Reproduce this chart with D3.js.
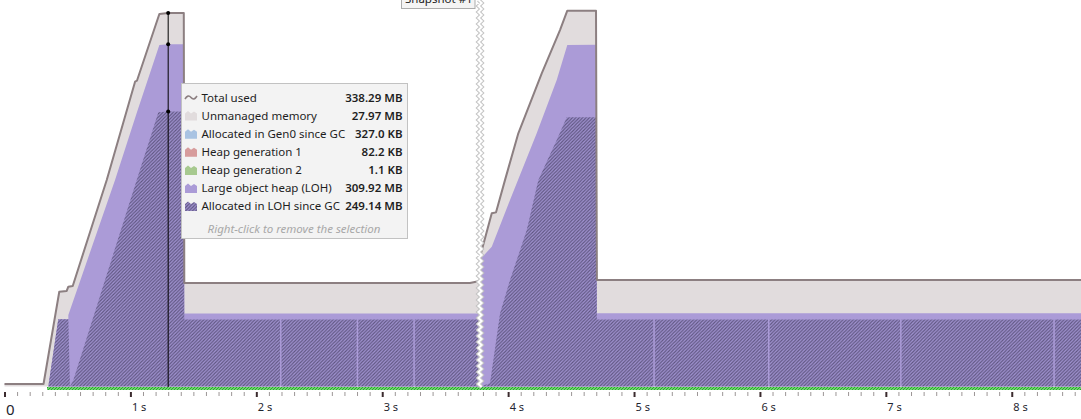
<!DOCTYPE html>
<html>
<head>
<meta charset="utf-8">
<script src="https://cdn.jsdelivr.net/npm/d3@7"></script>
<style>
  body { margin: 0; background: #fff; overflow: hidden; }
  svg { display: block; font-family: "Noto Sans", "Open Sans", sans-serif; }
</style>
</head>
<body>
<svg id="chart" width="1081" height="419"></svg>
<script>
// memory timeline, [time in s, MB]
var totalUsed = [[0, 2.3], [0.31, 2.3], [0.435, 85.8], [0.494, 86.5], [0.507, 90.4], [0.542, 91.0],
  [0.812, 187.0], [1.037, 276.0], [1.052, 276.9], [1.23, 337.3], [1.30, 338.29], [1.424, 338.3],
  [1.428, 93.7], [3.697, 93.7], [3.745, 94.9], [3.777, 95.5], [3.785, 121.0], [3.870, 156.8],
  [3.904, 157.7], [3.975, 186.9], [4.081, 229.3], [4.267, 283.6], [4.412, 322.8], [4.47, 340.3],
  [4.698, 340.3], [4.705, 96.4], [8.55, 96.4]];

var lohSize = [[0, 0], [0.348, 0], [0.427, 60.9], [0.507, 60.9], [0.507, 64.7], [0.878, 187.0],
  [1.05, 247.7], [1.23, 309.2], [1.30, 309.92], [1.424, 309.92], [1.428, 66.1], [3.777, 66.1],
  [3.785, 116.0], [3.870, 126.6], [4.015, 168.9], [4.227, 229.3], [4.386, 277.5], [4.47, 309.2],
  [4.698, 309.5], [4.705, 66.3], [8.55, 66.3]];

var lohAllocated = [[0, 0], [0.348, 0], [0.427, 60.9], [0.507, 60.9], [0.52, 0], [0.547, 5.9],
  [1.05, 187.0], [1.222, 248.3], [1.30, 249.14], [1.424, 249.14], [1.428, 60.7],
  [2.188, 60.7], [2.188, 0], [2.200, 0], [2.200, 60.7],
  [2.797, 60.7], [2.797, 0], [2.809, 0], [2.809, 60.7],
  [3.247, 60.7], [3.247, 0], [3.259, 0], [3.259, 60.7],
  [3.777, 60.7], [3.777, 0], [3.856, 2.9], [3.936, 66.3], [4.015, 96.4], [4.148, 141.7],
  [4.24, 187.0], [4.386, 223.2], [4.465, 243.8], [4.698, 243.8], [4.705, 60.7],
  [5.153, 60.7], [5.153, 0], [5.165, 0], [5.165, 60.7],
  [6.064, 60.7], [6.064, 0], [6.076, 0], [6.076, 60.7],
  [7.113, 60.7], [7.113, 0], [7.125, 0], [7.125, 60.7],
  [8.33, 60.7], [8.33, 0], [8.342, 0], [8.342, 60.7], [8.55, 60.7]];

var tickValues = [0, 1, 2, 3, 4, 5, 6, 7, 8];
var tickLabels = ["0", "1 s", "2 s", "3 s", "4 s", "5 s", "6 s", "7 s", "8 s"];

var snapshotTime = 3.777;
var snapshotLabel = "Snapshot #1";
var cursorTime = 1.30;

var legendNames = ["Total used", "Unmanaged memory", "Allocated in Gen0 since GC", "Heap generation 1",
  "Heap generation 2", "Large object heap (LOH)", "Allocated in LOH since GC"];
var legendValues = ["338.29 MB", "27.97 MB", "327.0 KB", "82.2 KB", "1.1 KB", "309.92 MB", "249.14 MB"];
var legendColors = [null, "#e1dcdd", "#a9c3e2", "#d79c9c", "#a7c98f", "#ab9bd7", "url(#hatch)"];
var cursorValues = [338.29, 309.92, 249.14];

var svg = d3.select("#chart");
var x = d3.scaleLinear().domain([0, 8.55]).range([4.5, 1081]);
var y = d3.scaleLinear().domain([0, 350]).range([386.5, 0]);

var defs = svg.append("defs");
var hatch = defs.append("pattern").attr("id", "hatch")
  .attr("patternUnits", "userSpaceOnUse").attr("width", 3.4).attr("height", 3.4);
hatch.append("rect").attr("width", 3.4).attr("height", 3.4).attr("fill", "#a294d2");
hatch.append("path").attr("d", "M-0.85,0.85 l1.7,-1.7 M0,3.4 l3.4,-3.4 M2.55,4.25 l1.7,-1.7")
  .attr("stroke", "#5e5580").attr("stroke-width", 1.1);

var green = defs.append("pattern").attr("id", "green")
  .attr("patternUnits", "userSpaceOnUse").attr("width", 3).attr("height", 3);
green.append("rect").attr("width", 3).attr("height", 3).attr("fill", "#b4ecb4");
green.append("path").attr("d", "M0,3 l3,-3 M-1,1 l2,-2 M2,4 l2,-2")
  .attr("stroke", "#22b022").attr("stroke-width", 1.3);

function area(data) {
  return d3.area().x(function (d) { return x(d[0]); }).y0(y(0)).y1(function (d) { return y(d[1]); })(data);
}

// stacked fills: unmanaged (under total), LOH, allocated in LOH
svg.append("path").attr("d", area(totalUsed)).attr("fill", "#e1dcdd");
svg.append("path").attr("d", area(lohSize)).attr("fill", "#ab9bd7");
svg.append("path").attr("d", area(lohAllocated)).attr("fill", "url(#hatch)");

svg.append("path")
  .attr("d", d3.line().x(function (d) { return x(d[0]); }).y(function (d) { return y(d[1]); })(totalUsed))
  .attr("fill", "none").attr("stroke", "#8c7f81").attr("stroke-width", 2).attr("stroke-linejoin", "round");

// green GC strip along the bottom
svg.append("rect").attr("x", 47).attr("y", 387).attr("width", 1081 - 47).attr("height", 3)
  .attr("fill", "url(#green)");

// axes
var minor = d3.range(1, 86).filter(function (i) { return i % 10 !== 0; }).map(function (i) { return i / 10; });
var minorAxis = svg.append("g").attr("transform", "translate(0,392)")
  .call(d3.axisBottom(x).tickValues(minor).tickSize(4).tickFormat(""));
minorAxis.select(".domain").remove();
minorAxis.selectAll("line").attr("stroke", "#9c9696");

var majorAxis = svg.append("g").attr("transform", "translate(0,392)")
  .call(d3.axisBottom(x).tickValues(tickValues).tickSize(5)
    .tickFormat(function (d, i) { return tickLabels[i]; }));
majorAxis.select(".domain").remove();
majorAxis.selectAll("line").attr("stroke", "#3b2b2e").attr("stroke-width", 2);
majorAxis.selectAll("text")
  .attr("text-anchor", "start").attr("x", 1).attr("y", 19).attr("dy", null)
  .attr("fill", "#1f2630").style("font-family", "'Noto Sans', sans-serif")
  .style("font-size", function (d) { return d === 0 ? "15px" : "11px"; })
  .attr("y", function (d) { return d === 0 ? 23 : 19; });

// snapshot separator
var sx = x(snapshotTime);
var zig = d3.range(0, 130).map(function (i) { return [sx + (i % 2 ? 1.6 : -1.6), i * 3]; });
svg.append("path").attr("d", d3.line()(zig)).attr("fill", "none").attr("stroke", "#c3c3c3").attr("stroke-width", 4);
svg.append("path").attr("d", d3.line()(zig)).attr("fill", "none").attr("stroke", "#fff").attr("stroke-width", 2);

var snap = svg.append("g");
snap.append("rect").attr("x", 401.5).attr("y", -14).attr("width", 73.5).attr("height", 22.5)
  .attr("fill", "#f4f4f4").attr("stroke", "#acacac");
snap.append("text").attr("x", 405).attr("y", 2.5).attr("font-size", 11.5).attr("fill", "#222")
  .text(snapshotLabel);

// cursor
var cx = x(cursorTime);
svg.append("line").attr("x1", cx).attr("x2", cx).attr("y1", y(338.29) - 1).attr("y2", 387)
  .attr("stroke", "#000").attr("stroke-width", 1);
svg.selectAll(".dot").data(cursorValues).enter().append("circle")
  .attr("cx", cx).attr("cy", function (d) { return y(d); }).attr("r", 2).attr("fill", "#000");

// tooltip legend
var tip = svg.append("g");
tip.append("rect").attr("x", 181.5).attr("y", 83.5).attr("width", 226).attr("height", 155)
  .attr("fill", "#f3f3f3").attr("stroke", "#c2c2c2");

var rows = tip.selectAll(".row").data(legendNames).enter().append("g")
  .attr("transform", function (d, i) { return "translate(0," + (97.5 + i * 18.1) + ")"; });

rows.each(function (d, i) {
  var r = d3.select(this);
  if (legendColors[i]) {
    r.append("path").attr("d", "M185,5 L185,-2 L188,-4.5 L191,-2 L194,-4 L197,-2 L197,5 Z")
      .attr("fill", legendColors[i]);
  } else {
    r.append("path").attr("d", "M185,1.5 Q188,-3.5 191,0 T197,-1.5")
      .attr("fill", "none").attr("stroke", "#8c7f81").attr("stroke-width", 1.6);
  }
});
rows.append("text").attr("x", 201.5).attr("y", 4).attr("font-size", 11.5).attr("fill", "#1e1e1e")
  .text(function (d) { return d; });
rows.append("text").attr("x", 402.5).attr("y", 4).attr("font-size", 11.5).attr("font-weight", 600)
  .attr("text-anchor", "end").attr("fill", "#1e1e1e")
  .text(function (d, i) { return legendValues[i]; });

tip.append("text").attr("x", 294).attr("y", 232.5).attr("text-anchor", "middle")
  .attr("font-size", 11.5).attr("font-style", "italic").attr("fill", "#a8a8a8")
  .text("Right-click to remove the selection");
</script>
</body>
</html>
